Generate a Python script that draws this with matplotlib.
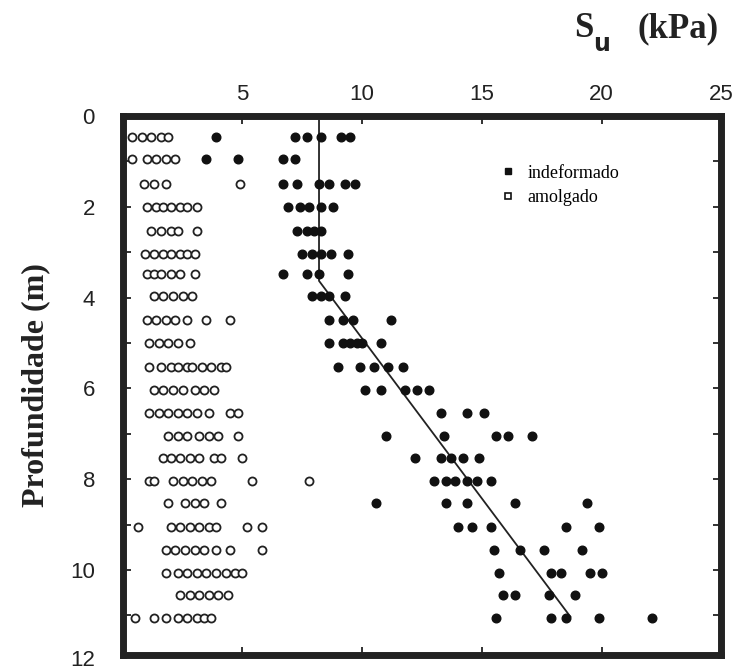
import numpy as np
import matplotlib
matplotlib.use("Agg")
import matplotlib.pyplot as plt
from matplotlib.lines import Line2D
from matplotlib.ticker import MultipleLocator

# profundidade de cada ensaio (m)
depths = [0.46, 0.95, 1.5, 2.0, 2.53, 3.03, 3.48, 3.97, 4.5, 5.0, 5.53,
          6.03, 6.54, 7.05, 7.53, 8.04, 8.53, 9.05, 9.56, 10.06, 10.55, 11.06]

# Su indeformado (kPa), uma lista por profundidade
su_indef = [
    [3.9, 7.2, 7.7, 8.3, 9.1, 9.5],
    [3.5, 4.8, 6.7, 7.2],
    [6.7, 7.3, 8.2, 8.6, 9.3, 9.7],
    [6.9, 7.4, 7.8, 8.3, 8.8],
    [7.3, 7.7, 8.0, 8.3],
    [7.5, 7.9, 8.3, 8.7, 9.4],
    [6.7, 7.7, 8.2, 9.4],
    [7.9, 8.3, 8.6, 9.3],
    [8.6, 9.2, 9.6, 11.2],
    [8.6, 9.2, 9.5, 9.8, 10.0, 10.8],
    [9.0, 9.9, 10.5, 11.1, 11.7],
    [10.1, 10.8, 11.8, 12.3, 12.8],
    [13.3, 14.4, 15.1],
    [11.0, 13.4, 15.6, 16.1, 17.1],
    [12.2, 13.3, 13.7, 14.2, 14.9],
    [13.0, 13.5, 13.9, 14.4, 14.8, 15.4],
    [10.6, 13.5, 14.4, 16.4, 19.4],
    [14.0, 14.6, 15.4, 18.5, 19.9],
    [15.5, 16.6, 17.6, 19.2],
    [15.7, 17.9, 18.3, 19.5, 20.0],
    [15.9, 16.4, 17.8, 18.9],
    [15.6, 17.9, 18.5, 19.9, 22.1],
]

# Su amolgado (kPa)
su_amolg = [
    [0.4, 0.8, 1.2, 1.6, 1.9],
    [0.4, 1.0, 1.4, 1.8, 2.2],
    [0.9, 1.3, 1.8, 4.9],
    [1.0, 1.4, 1.7, 2.0, 2.4, 2.7, 3.1],
    [1.2, 1.6, 2.0, 2.3, 3.1],
    [0.95, 1.3, 1.7, 2.0, 2.4, 2.7, 3.0],
    [1.0, 1.3, 1.6, 2.0, 2.4, 3.0],
    [1.3, 1.7, 2.1, 2.5, 2.9],
    [1.0, 1.4, 1.8, 2.2, 2.7, 3.5, 4.5],
    [1.1, 1.5, 1.9, 2.3, 2.8],
    [1.1, 1.6, 2.0, 2.3, 2.7, 2.9, 3.3, 3.7, 4.1, 4.3],
    [1.3, 1.7, 2.1, 2.5, 3.0, 3.4, 3.8],
    [1.1, 1.5, 1.9, 2.3, 2.7, 3.1, 3.6, 4.5, 4.8],
    [1.9, 2.3, 2.7, 3.2, 3.6, 4.0, 4.8],
    [1.7, 2.0, 2.4, 2.8, 3.2, 3.8, 4.1, 5.0],
    [1.1, 1.3, 2.1, 2.5, 2.9, 3.3, 3.7, 5.4, 7.8],
    [1.9, 2.6, 3.0, 3.4, 4.1],
    [0.65, 2.0, 2.4, 2.8, 3.2, 3.6, 3.9, 5.2, 5.8],
    [1.8, 2.2, 2.6, 3.0, 3.4, 3.9, 4.5, 5.8],
    [1.8, 2.3, 2.7, 3.1, 3.5, 3.9, 4.3, 4.7, 5.0],
    [2.4, 2.8, 3.2, 3.6, 4.0, 4.4],
    [0.5, 1.3, 1.8, 2.3, 2.7, 3.1, 3.4, 3.7],
]

# perfil de projeto
line_su = [8.2, 8.2, 18.7]
line_z = [0.1, 3.63, 11.03]

depth_ticks = [0, 2, 4, 6, 8, 10]
su_ticks = [5, 10, 15, 20, 25]

serif = "Liberation Serif"
sans = "Liberation Sans"
ink = "#222222"

fig = plt.figure(figsize=(7.39, 6.71), dpi=100)
ax = fig.add_axes([0.166, 0.024, 0.81, 0.803])

xi, zi = [], []
for z, vals in zip(depths, su_indef):
    xi += vals
    zi += [z] * len(vals)
xa, za = [], []
for z, vals in zip(depths, su_amolg):
    xa += vals
    za += [z] * len(vals)

ax.plot(xa, za, "o", ms=5.8, mfc="white", mec=ink, mew=1.3,
        linestyle="none", zorder=3)
ax.plot(xi, zi, "o", ms=6.2, color="#111111", linestyle="none", zorder=4)
ax.plot(line_su, line_z, color=ink, lw=1.3, zorder=2)

ax.set_xlim(0, 25)
ax.set_ylim(11.87, 0)
ax.xaxis.set_ticks_position("both")
ax.tick_params(axis="x", labeltop=True, labelbottom=False, pad=8)
ax.set_xticks(su_ticks)
ax.set_yticks(depth_ticks)
ax.yaxis.set_minor_locator(MultipleLocator(1))
ax.yaxis.set_ticks_position("both")
ax.tick_params(which="both", direction="in", length=6, width=1.3,
               labelsize=16, color=ink, labelcolor=ink)
ax.tick_params(axis="y", pad=20)
for lab in ax.get_xticklabels() + ax.get_yticklabels():
    lab.set_fontfamily(sans)
# o rotulo 12 fica logo abaixo da moldura
ax.text(-0.0468, 12, "12", transform=ax.get_yaxis_transform(), ha="right",
        va="center", fontsize=16, family=sans, color=ink, clip_on=False)

for sp in ax.spines.values():
    sp.set_linewidth(5)
    sp.set_color(ink)

ax.set_ylabel("Profundidade (m)", fontsize=23, fontweight="bold",
              family=serif, labelpad=14, color=ink)

fig.text(0.777, 0.957, "S", ha="left", va="center", fontsize=25,
         family=serif, fontweight="bold", color=ink)
fig.text(0.802, 0.935, "u", ha="left", va="center", fontsize=17,
         family="DejaVu Sans", fontweight="bold", color=ink)
fig.text(0.972, 0.957, "(kPa)", ha="right", va="center", fontsize=25,
         family=serif, fontweight="bold", color=ink)

handles = [Line2D([], [], marker="s", ms=5, color="#111111", ls="none"),
           Line2D([], [], marker="s", ms=4.5, mfc="white", mec="#111111",
                  mew=1.2, ls="none")]
ax.legend(handles, ["indeformado", "amolgado"], loc="upper left",
          bbox_to_anchor=(0.608, 0.94), frameon=False, handlelength=0.6,
          handletextpad=0.75, labelspacing=0.4,
          prop={"family": serif, "size": 13})

fig.savefig("out.png", dpi=100)
